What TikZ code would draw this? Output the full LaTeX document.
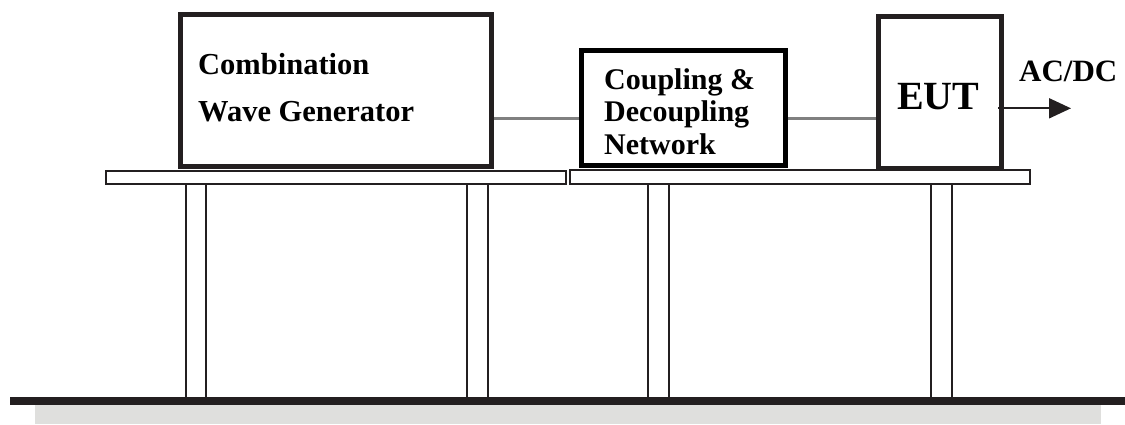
\documentclass[tikz,border=0pt]{standalone}
\usepackage{fontspec}
\setmainfont{Liberation Serif}
\usetikzlibrary{arrows.meta}
\definecolor{ink}{HTML}{231F20}
\definecolor{cable}{HTML}{808080}
\definecolor{floorshade}{HTML}{DFDFDD}
\begin{document}
\begin{tikzpicture}[x=1pt,y=-1pt,
  unitbox/.style={draw=ink,line width=5pt,rectangle,inner sep=0pt,fill=white},
  label/.style={inner sep=0pt,anchor=base west,font=\bfseries\fontsize{30.5}{32}\selectfont},
  tabletop/.style={draw=ink,line width=2pt,fill=white},
  tableleg/.style={draw=ink,line width=2pt},
  cable/.style={draw=cable,line width=3pt}]
\useasboundingbox (0,0) rectangle (1125,424);

% floor: dark bar with a light grey band beneath
\fill[floorshade] (35,405) rectangle (1101,424);
\fill[ink] (10,396.7) rectangle (1125,405);

% table legs
\foreach \l/\r in {186/206,467/488,648/669,931/952}
  \draw[tableleg] (\l,397) -- (\l,183.5) -- (\r,183.5) -- (\r,397);

% table tops
\draw[tabletop] (106,170.5) rectangle (566,183.5);
\draw[tabletop] (570,170) rectangle (1030,183.5);

% equipment boxes
\node[unitbox,minimum width=311pt,minimum height=151.5pt] (cwg) at (336,90.25) {};
\node[unitbox,draw=black,line width=5.5pt,minimum width=204pt,minimum height=115pt] (cdn) at (683.5,108) {};
\node[unitbox,minimum width=123pt,minimum height=152pt] (eut) at (940,92.5) {};

% box captions
\node[label] (cwg1) at (198,74) {Combination};
\node[label] (cwg2) at (198,121) {Wave Generator};
\node[label,font=\bfseries\fontsize{30}{32}\selectfont] (cdn1) at (604,89.3) {Coupling \&};
\node[label,font=\bfseries\fontsize{30}{32}\selectfont] (cdn2) at (604,121.5) {Decoupling};
\node[label,font=\bfseries\fontsize{30}{32}\selectfont] (cdn3) at (604,154) {Network};
\node[label,font=\bfseries\fontsize{40}{42}\selectfont] (euttext) at (897,109) {EUT};
\node[label,font=\bfseries\fontsize{31}{33}\selectfont] (acdc) at (1019,81.7) {AC/DC};

% cables between the units
\coordinate (linkrow) at (0,118);
\draw[cable] (cwg.east |- linkrow) -- (cdn.west |- linkrow);
\draw[cable] (cdn.east |- linkrow) -- (eut.west |- linkrow);

% supply lead out of the EUT
\coordinate (supplyrow) at (0,108.3);
\coordinate (supplyend) at (1071,108.3);
\draw[ink,line width=2pt,-{Triangle[length=22pt,width=20pt]}]
  ([xshift=-6pt]eut.east |- supplyrow) -- (supplyend);
\end{tikzpicture}
\end{document}
